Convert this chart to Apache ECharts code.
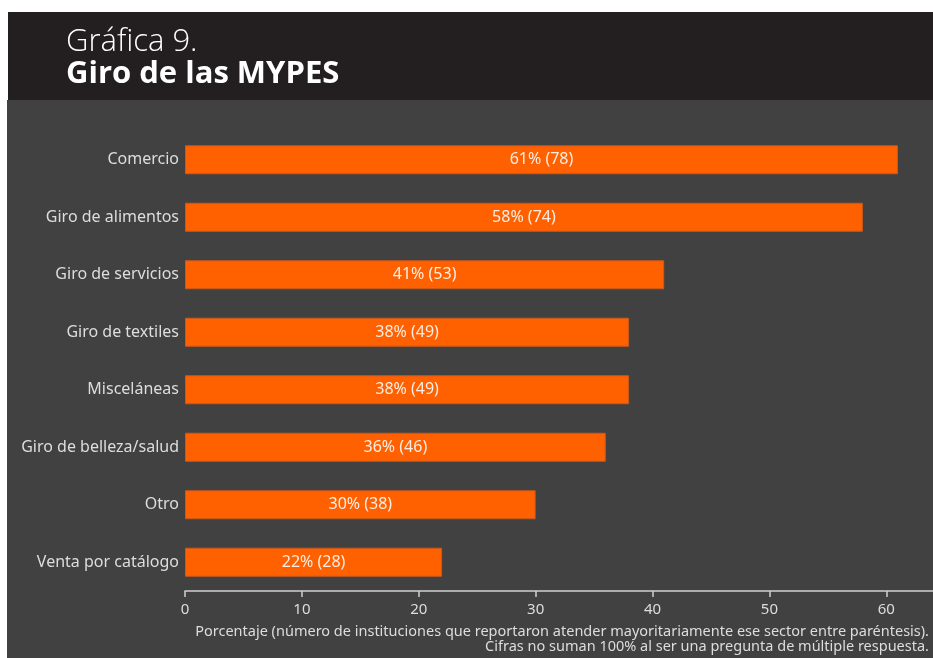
<!DOCTYPE html>
<html>
<head>
<meta charset="utf-8">
<script src="https://cdn.jsdelivr.net/npm/echarts@6/dist/echarts.min.js"></script>
<style>
  html, body { margin: 0; padding: 0; background: #ffffff; }
  #chart { width: 933px; height: 658px; }
</style>
</head>
<body>
<div id="chart"></div>
<script>
// giro de las MYPES, de abajo hacia arriba como los dibuja el eje
const categories = ['Venta por catálogo', 'Otro', 'Giro de belleza/salud', 'Misceláneas', 'Giro de textiles', 'Giro de servicios', 'Giro de alimentos', 'Comercio']
const percents = [22, 30, 36, 38, 38, 41, 58, 61]
const counts = [28, 38, 46, 49, 49, 53, 74, 78]
const xTicks = [0, 10, 20, 30, 40, 50, 60]

const font = '"Noto Sans", "Open Sans", sans-serif'
const headFont = '"Open Sans", "Noto Sans", sans-serif'
const orange = '#ff6000'

const chart = echarts.init(document.getElementById('chart'))

const option = {
  backgroundColor: '#ffffff',
  animation: false,
  graphic: [
    { type: 'rect', z: -10, shape: { x: 8, y: 12, width: 925, height: 88 }, style: { fill: '#231f20' } },
    { type: 'rect', z: -10, shape: { x: 7, y: 100, width: 926, height: 558 }, style: { fill: '#414141' } },
    { type: 'text', left: 66, top: 27, style: { text: 'Gráfica 9.', fill: '#ffffff', font: '300 31px ' + headFont } },
    { type: 'text', left: 66, top: 59, style: { text: 'Giro de las MYPES', fill: '#ffffff', font: 'bold 31px ' + headFont } },
    {
      type: 'text', right: 4, top: 624,
      style: { text: 'Porcentaje (número de instituciones que reportaron atender mayoritariamente ese sector entre paréntesis).', fill: '#dddddd', font: '14.5px ' + font }
    },
    {
      type: 'text', right: 4, top: 639,
      style: { text: 'Cifras no suman 100% al ser una pregunta de múltiple respuesta.', fill: '#dddddd', font: '14.5px ' + font }
    }
  ],
  grid: { left: 185, right: 0, top: 131, bottom: 67 },
  xAxis: {
    type: 'value',
    min: 0,
    max: 64,
    interval: 10,
    splitLine: { show: false },
    axisLine: { show: true, lineStyle: { color: '#d0d0d0', width: 1.5 } },
    axisTick: { show: true, length: 6, lineStyle: { color: '#d0d0d0', width: 1.5 } },
    axisLabel: {
      color: '#dddddd', fontSize: 15, fontFamily: font, margin: 11, showMaxLabel: false,
      formatter: v => xTicks.indexOf(v) >= 0 ? String(v) : ''
    }
  },
  yAxis: {
    type: 'category',
    data: categories,
    axisLine: { show: false },
    axisTick: { show: false },
    axisLabel: { color: '#dddddd', fontSize: 16, fontFamily: font, margin: 6 }
  },
  series: [{
    type: 'bar',
    data: percents,
    barWidth: 29,
    itemStyle: { color: orange, borderColor: '#c9581c', borderWidth: 1 },
    label: {
      show: true,
      position: 'inside',
      color: '#fbeee4',
      fontSize: 16,
      fontFamily: font,
      formatter: p => p.value + '% (' + counts[p.dataIndex] + ')'
    }
  }]
}

chart.setOption(option)
</script>
</body>
</html>
